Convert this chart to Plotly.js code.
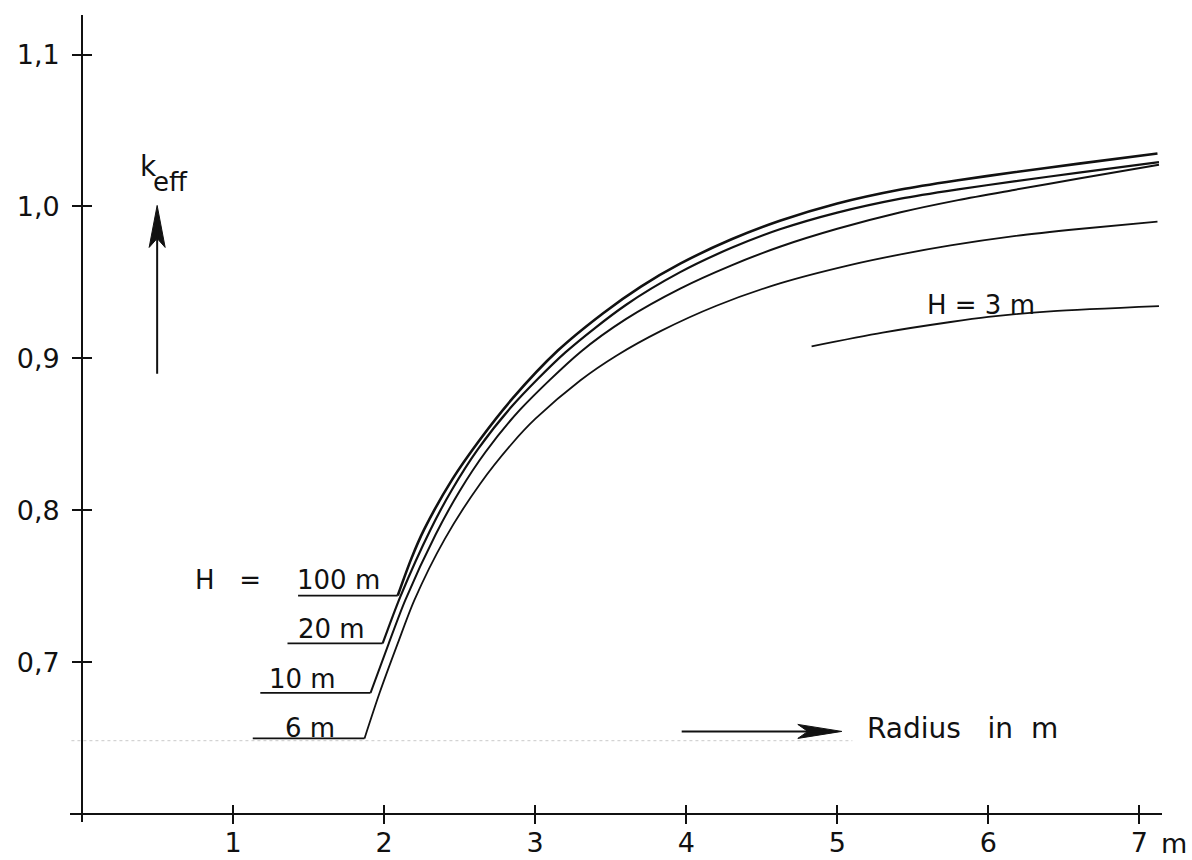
<!DOCTYPE html>
<html>
<head>
<meta charset="utf-8">
<script src="https://cdn.plot.ly/plotly-3.0.1.min.js"></script>
<style>
  html, body { margin: 0; padding: 0; background: #fff; }
  #chart { width: 1192px; height: 860px; }
</style>
</head>
<body>
<div id="chart"></div>
<script>
// k_eff of a cylindrical core versus radius, one curve per core height H
const radiusH100 = [2.09, 2.18, 2.265, 2.45, 2.636, 2.85, 3.15, 3.45, 3.7, 3.96, 4.3, 4.62, 5.0, 5.42, 5.8, 6.17, 6.6, 7.12];
const keffH100   = [0.744, 0.7683, 0.7875, 0.8203, 0.8469, 0.8737, 0.9052, 0.9298, 0.9473, 0.9624, 0.9784, 0.9906, 1.002, 1.0112, 1.0173, 1.0225, 1.0282, 1.0349];

const radiusH20 = [1.99, 2.11, 2.305, 2.45, 2.62, 2.85, 3.2, 3.6, 3.96, 4.3, 4.62, 5.0, 5.42, 5.8, 6.17, 6.6, 7.13];
const keffH20   = [0.7125, 0.744, 0.787, 0.8138, 0.8402, 0.869, 0.904, 0.9352, 0.9568, 0.9728, 0.985, 0.996, 1.0052, 1.0113, 1.0165, 1.0223, 1.0292];

const radiusH10 = [1.91, 2.03, 2.14, 2.34, 2.5, 2.67, 2.9, 3.3, 3.6, 3.96, 4.3, 4.62, 5.0, 5.42, 5.8, 6.17, 6.6, 7.13];
const keffH10   = [0.68, 0.7124, 0.741, 0.784, 0.8128, 0.8383, 0.8663, 0.9043, 0.9259, 0.946, 0.9613, 0.9735, 0.9853, 0.9962, 1.0042, 1.0109, 1.0184, 1.0274];

const radiusH6 = [1.87, 1.97, 2.09, 2.2, 2.4, 2.636, 2.85, 3.0, 3.3, 3.54, 3.83, 4.2, 4.62, 5.09, 5.42, 5.75, 6.17, 6.6, 7.12];
const keffH6   = [0.65, 0.68, 0.7125, 0.741, 0.781, 0.8176, 0.8444, 0.8602, 0.8857, 0.902, 0.918, 0.9347, 0.9494, 0.9616, 0.9685, 0.9744, 0.9805, 0.9852, 0.9901];

const radiusH3 = [4.83, 5.30, 5.75, 6.0, 6.41, 7.13];
const keffH3   = [0.908, 0.917, 0.924, 0.9273, 0.931, 0.9345];

// left end of the underline that carries each height label (100, 20, 10, 6 m)
const leaderFrom = [1.43, 1.36, 1.18, 1.13];
const heightLabels = ['100 m', '20 m', '10 m', '6 m'];

const xTickVals = [1, 2, 3, 4, 5, 6, 7];
const xTickText = ['1', '2', '3', '4', '5', '6', '7'];
const yTickVals = [0.7, 0.8, 0.9, 1.0, 1.1];
const yTickText = ['0,7', '0,8', '0,9', '1,0', '1,1'];

const FONT = 'DejaVu Sans, Verdana, sans-serif';
const INK = '#111';

const xRange = [-0.08, 7.15];
const yRange = [0.595, 1.126];
// where the axes cross: r = 0 and k = 0.6, as fractions of the plot area
const xAxisPos = (0.6 - yRange[0]) / (yRange[1] - yRange[0]);
const yAxisPos = (0 - xRange[0]) / (xRange[1] - xRange[0]);

const families = [
  { r: radiusH100, k: keffH100, w: 2.6 },
  { r: radiusH20,  k: keffH20,  w: 2.2 },
  { r: radiusH10,  k: keffH10,  w: 2.0 },
  { r: radiusH6,   k: keffH6,   w: 1.8 }
];

const traces = [];
families.forEach((f, i) => {
  // label underline running into the start of the curve
  traces.push({
    type: 'scatter', mode: 'lines',
    x: [leaderFrom[i], f.r[0]], y: [f.k[0], f.k[0]],
    line: { color: INK, width: 1.8 },
    hoverinfo: 'skip', showlegend: false
  });
  traces.push({
    type: 'scatter', mode: 'lines',
    x: f.r, y: f.k,
    line: { color: INK, width: f.w, shape: 'spline', smoothing: 0.8 },
    name: 'H = ' + heightLabels[i], showlegend: false
  });
});
traces.push({
  type: 'scatter', mode: 'lines',
  x: radiusH3, y: keffH3,
  line: { color: INK, width: 1.8, shape: 'spline', smoothing: 0.8 },
  name: 'H = 3 m', showlegend: false
});
// carrier for the second pair of axes that draws the inner half of each tick
traces.push({ type: 'scatter', x: [null], y: [null], xaxis: 'x2', yaxis: 'y2', hoverinfo: 'skip', showlegend: false });

const tickFont = { family: FONT, size: 27, color: INK };
const labelFont = { family: FONT, size: 26, color: INK };

function ann(text, x, y, extra) {
  return Object.assign({ text: text, x: x, y: y, xref: 'x', yref: 'y', showarrow: false, font: labelFont }, extra || {});
}

const annotations = [
  ann('H\u00a0\u00a0\u00a0=', 0.967, 0.754),
  ann(heightLabels[0], 1.70, 0.754),
  ann(heightLabels[1], 1.65, 0.7217),
  ann(heightLabels[2], 1.457, 0.689),
  ann(heightLabels[3], 1.51, 0.657),
  ann('H = 3 m', 5.95, 0.9355),
  ann('Radius\u00a0\u00a0 in\u00a0\u00a0m', 5.83, 0.6566, { font: { family: FONT, size: 28, color: INK } }),
  ann('k', 0.437, 1.026, { font: { family: FONT, size: 28, color: INK } }),
  ann('eff', 0.455, 1.0158, { xanchor: 'left', font: { family: FONT, size: 26, color: INK } }),
  ann('m', 7, 0.6, { xanchor: 'left', xshift: 20, yshift: -29, font: tickFont }),
  // shafts of the two direction arrows
  { x: 0.497, y: 0.994, ax: 0.497, ay: 0.889, xref: 'x', yref: 'y', axref: 'x', ayref: 'y',
    showarrow: true, arrowhead: 0, arrowwidth: 2, arrowcolor: INK, text: '' },
  { x: 4.98, y: 0.6546, ax: 3.96, ay: 0.6546, xref: 'x', yref: 'y', axref: 'x', ayref: 'y',
    showarrow: true, arrowhead: 0, arrowwidth: 2, arrowcolor: INK, text: '' }
];

const shapes = [
  // faint guide line near the bottom
  { type: 'line', xref: 'x', yref: 'y', x0: -0.15, x1: 5.1, y0: 0.6485, y1: 0.6485,
    line: { color: '#c9c9c9', width: 1, dash: 'dot' }, layer: 'below' },
  // slender arrow heads, sized in pixels around their tips
  { type: 'path', xref: 'x', yref: 'y', xsizemode: 'pixel', ysizemode: 'pixel',
    xanchor: 0.497, yanchor: 1.0007,
    path: 'M0,0 L-8,-42 L0,-33 L8,-42 Z', fillcolor: INK, line: { color: INK, width: 1 } },
  { type: 'path', xref: 'x', yref: 'y', xsizemode: 'pixel', ysizemode: 'pixel',
    xanchor: 5.03, yanchor: 0.6546,
    path: 'M0,0 L-44,7 L-34,0 L-44,-7 Z', fillcolor: INK, line: { color: INK, width: 1 } }
];

const axisCommon = {
  showgrid: false, zeroline: false, showline: true, linecolor: INK, linewidth: 2,
  ticks: 'outside', ticklen: 9, tickwidth: 2, tickcolor: INK, tickfont: tickFont,
  fixedrange: true
};

const layout = {
  width: 1192, height: 860, autosize: false,
  margin: { l: 70, r: 30, t: 15, b: 38, pad: 0 },
  paper_bgcolor: '#fff', plot_bgcolor: '#fff',
  showlegend: false,
  xaxis: Object.assign({}, axisCommon, {
    range: xRange, anchor: 'free', position: xAxisPos,
    tickmode: 'array', tickvals: xTickVals, showticklabels: false
  }),
  yaxis: Object.assign({}, axisCommon, {
    range: yRange, anchor: 'free', position: yAxisPos,
    tickmode: 'array', tickvals: yTickVals, ticktext: yTickText, ticklabelstandoff: 7
  }),
  // inner tick halves; the x labels hang from this axis so they sit close to the line
  xaxis2: {
    overlaying: 'x', range: xRange, anchor: 'free', position: xAxisPos, side: 'bottom',
    showgrid: false, zeroline: false, showline: false,
    ticks: 'inside', ticklen: 9, tickwidth: 2, tickcolor: INK,
    tickmode: 'array', tickvals: xTickVals, ticktext: xTickText,
    tickfont: tickFont, ticklabelstandoff: 10, fixedrange: true
  },
  yaxis2: {
    overlaying: 'y', range: yRange, anchor: 'free', position: yAxisPos, side: 'left',
    showgrid: false, zeroline: false, showline: false, showticklabels: false,
    ticks: 'inside', ticklen: 9, tickwidth: 2, tickcolor: INK,
    tickmode: 'array', tickvals: yTickVals, fixedrange: true
  },
  annotations: annotations,
  shapes: shapes
};

Plotly.newPlot('chart', traces, layout, { staticPlot: true, displayModeBar: false });
</script>
</body>
</html>
